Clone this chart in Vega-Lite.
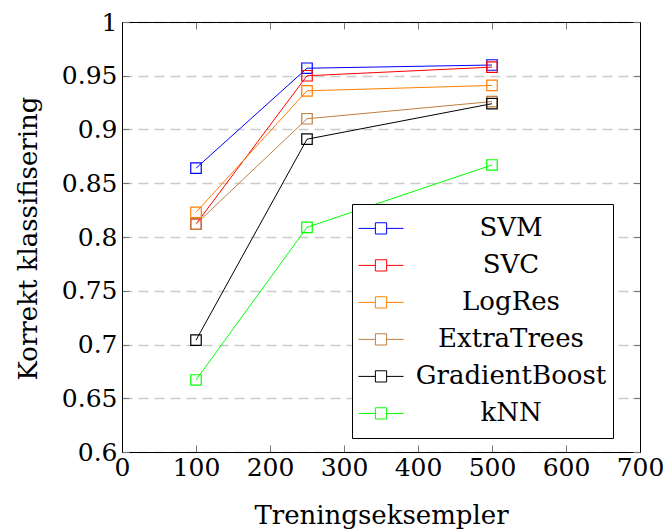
{
  "$schema": "https://vega.github.io/schema/vega-lite/v6.json",
  "width": 518,
  "height": 430,
  "autosize": {"type": "none"},
  "padding": {"left": 122, "top": 22, "right": 24, "bottom": 79},
  "background": "white",
  "config": {
    "font": "DejaVu Serif",
    "view": {"stroke": null},
    "axis": {
      "domainColor": "black",
      "domainWidth": 1,
      "tickColor": "#777777",
      "tickWidth": 1,
      "tickSize": -7,
      "labelFont": "DejaVu Serif",
      "labelFontSize": 25,
      "labelColor": "black",
      "labelFlush": false,
      "labelOverlap": false,
      "labelBound": false,
      "titleFont": "DejaVu Serif",
      "titleFontSize": 26,
      "titleFontWeight": "normal",
      "titleColor": "black",
      "grid": false
    }
  },
  "data": {
    "values": [
      {"model": "SVM", "n": 100, "acc": 0.864},
      {"model": "SVM", "n": 250, "acc": 0.957},
      {"model": "SVM", "n": 500, "acc": 0.960},
      {"model": "SVC", "n": 100, "acc": 0.812},
      {"model": "SVC", "n": 250, "acc": 0.950},
      {"model": "SVC", "n": 500, "acc": 0.958},
      {"model": "LogRes", "n": 100, "acc": 0.823},
      {"model": "LogRes", "n": 250, "acc": 0.936},
      {"model": "LogRes", "n": 500, "acc": 0.941},
      {"model": "ExtraTrees", "n": 100, "acc": 0.812},
      {"model": "ExtraTrees", "n": 250, "acc": 0.910},
      {"model": "ExtraTrees", "n": 500, "acc": 0.926},
      {"model": "GradientBoost", "n": 100, "acc": 0.704},
      {"model": "GradientBoost", "n": 250, "acc": 0.891},
      {"model": "GradientBoost", "n": 500, "acc": 0.924},
      {"model": "kNN", "n": 100, "acc": 0.667},
      {"model": "kNN", "n": 250, "acc": 0.809},
      {"model": "kNN", "n": 500, "acc": 0.867}
    ]
  },
  "layer": [
    {
      "mark": {"type": "point", "opacity": 0},
      "encoding": {
        "x": {"field": "n", "type": "quantitative", "scale": {"domain": [0, 700], "nice": false},
              "axis": {"orient": "top", "labels": false, "title": null, "values": [0, 100, 200, 300, 400, 500, 600, 700]}},
        "y": {"field": "acc", "type": "quantitative", "scale": {"domain": [0.6, 1], "nice": false, "zero": false},
              "axis": {"orient": "right", "labels": false, "title": null, "values": [0.6, 0.65, 0.7, 0.75, 0.8, 0.85, 0.9, 0.95, 1]}}
      }
    },
    {
      "mark": {"type": "line", "strokeWidth": 1, "point": {"shape": "square", "filled": false, "size": 110, "strokeWidth": 1.2}},
      "encoding": {
        "x": {"field": "n", "type": "quantitative", "scale": {"domain": [0, 700], "nice": false},
              "axis": {"orient": "bottom", "title": "Treningseksempler", "values": [0, 100, 200, 300, 400, 500, 600, 700], "labelPadding": 10,
                       "titleBaseline": "alphabetic", "titleY": 71}},
        "y": {"field": "acc", "type": "quantitative", "scale": {"domain": [0.6, 1], "nice": false, "zero": false},
              "axis": {"orient": "left", "title": "Korrekt klassifisering", "values": [0.6, 0.65, 0.7, 0.75, 0.8, 0.85, 0.9, 0.95, 1], "format": ".2~f",
                       "labelPadding": 12, "titleBaseline": "middle", "titleX": -94, "titleY": 216,
                       "grid": true, "gridDash": [10, 6], "gridColor": "#cccccc", "gridWidth": 1.3}},
        "color": {"field": "model", "type": "nominal",
                  "scale": {"domain": ["SVM", "SVC", "LogRes", "ExtraTrees", "GradientBoost", "kNN"],
                            "range": ["#0000ff", "#ff0000", "#ff8000", "#bf8040", "#000000", "#00ff00"]},
                  "legend": {"orient": "none", "legendX": 230, "legendY": 182, "title": null,
                             "symbolType": "M-1,0H-0.25M0.25,0H1M-0.25,-0.25H0.25V0.25H-0.25Z",
                             "symbolSize": 2025, "symbolStrokeWidth": 1, "symbolFillColor": "transparent",
                             "labelFontSize": 26, "labelFont": "DejaVu Serif", "labelColor": "black", "labelLimit": 400,
                             "labelAlign": "center", "labelOffset": 107, "clipHeight": 36.8, "rowPadding": 0,
                             "padding": 6, "strokeColor": "black", "fillColor": "white", "cornerRadius": 0}}
      }
    }
  ],
  "resolve": {"axis": {"x": "independent", "y": "independent"}}
}
